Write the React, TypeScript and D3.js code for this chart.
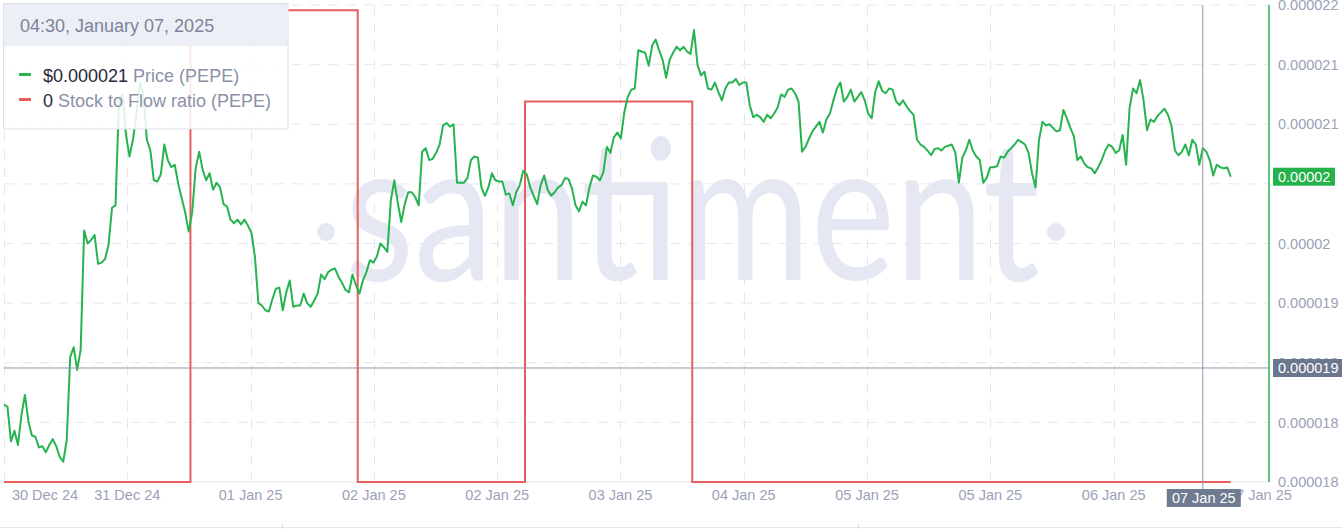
import * as d3 from "d3";

// PEPE price, in millionths of a dollar, one reading every 30 minutes
const priceStart = new Date(2024, 11, 30, 21, 15);
const priceStepMinutes = 30;
const priceMicro = [
  18.65, 18.63, 18.34, 18.43, 18.31, 18.56, 18.73, 18.51, 18.39, 18.38,
  18.29, 18.3, 18.25, 18.31, 18.36, 18.3, 18.21, 18.17, 18.35, 19.05,
  19.13, 18.94, 19.11, 20.11, 20.0, 20.03, 20.07, 19.83, 19.84, 19.87,
  19.99, 20.3, 20.32, 21.2, 21.25, 20.91, 20.73, 20.87, 21.08, 21.35,
  21.25, 20.87, 20.78, 20.53, 20.52, 20.58, 20.83, 20.7, 20.64, 20.66,
  20.5, 20.38, 20.26, 20.1, 20.26, 20.63, 20.77, 20.62, 20.53, 20.59,
  20.45, 20.51, 20.47, 20.33, 20.31, 20.2, 20.17, 20.2, 20.16, 20.2,
  20.15, 20.09, 19.89, 19.5, 19.48, 19.44, 19.43, 19.53, 19.62, 19.63,
  19.44, 19.59, 19.69, 19.47, 19.48, 19.48, 19.58, 19.5, 19.47, 19.52,
  19.58, 19.74, 19.7, 19.76, 19.78, 19.79, 19.72, 19.67, 19.61, 19.59,
  19.74, 19.65, 19.58, 19.69, 19.76, 19.86, 19.84, 19.89, 20.0, 19.97,
  19.93, 20.36, 20.53, 20.34, 20.18, 20.33, 20.43, 20.43, 20.39, 20.32,
  20.77, 20.8, 20.7, 20.71, 20.76, 20.83, 20.99, 21.01, 20.98, 21.0,
  20.51, 20.51, 20.51, 20.55, 20.7, 20.73, 20.72, 20.47, 20.4, 20.47,
  20.59, 20.53, 20.52, 20.52, 20.41, 20.42, 20.32, 20.43, 20.49, 20.61,
  20.58, 20.47, 20.4, 20.33, 20.49, 20.57, 20.45, 20.4, 20.43, 20.47,
  20.49, 20.55, 20.54, 20.46, 20.32, 20.27, 20.35, 20.32, 20.47, 20.57,
  20.56, 20.53, 20.6, 20.81, 20.76, 20.89, 20.93, 20.88, 21.1, 21.23,
  21.29, 21.3, 21.62, 21.61, 21.6, 21.49, 21.66, 21.71, 21.62, 21.54,
  21.39, 21.54, 21.6, 21.65, 21.62, 21.65, 21.61, 21.59, 21.79, 21.5,
  21.41, 21.44, 21.3, 21.29, 21.35, 21.27, 21.2, 21.3, 21.35, 21.35,
  21.38, 21.33, 21.35, 21.35, 21.16, 21.06, 21.08, 21.06, 21.02, 21.08,
  21.05, 21.09, 21.14, 21.25, 21.23, 21.29, 21.3, 21.26, 21.19, 20.77,
  20.81, 20.88, 20.94, 20.98, 21.02, 20.93, 21.04, 21.09, 21.2, 21.3,
  21.35, 21.19, 21.23, 21.29, 21.19, 21.23, 21.27, 21.2, 21.09, 21.05,
  21.27, 21.36, 21.28, 21.26, 21.3, 21.29, 21.19, 21.16, 21.2, 21.15,
  21.11, 21.08, 20.87, 20.83, 20.81, 20.78, 20.74, 20.79, 20.8, 20.78,
  20.81, 20.82, 20.83, 20.76, 20.51, 20.72, 20.78, 20.87, 20.78, 20.73,
  20.7, 20.51, 20.55, 20.64, 20.64, 20.65, 20.73, 20.72, 20.77, 20.8,
  20.83, 20.87, 20.85, 20.83, 20.76, 20.59, 20.47, 20.87, 21.02, 20.99,
  21.0, 20.97, 20.94, 20.95, 21.12, 21.05, 20.97, 20.9, 20.7, 20.73,
  20.67, 20.64, 20.63, 20.59, 20.64, 20.7, 20.78, 20.83, 20.81, 20.76,
  20.78, 20.91, 20.66, 21.14, 21.3, 21.26, 21.37, 21.2, 20.95, 21.04,
  21.02, 21.07, 21.1, 21.13, 21.08, 20.99, 20.78, 20.74, 20.77, 20.83,
  20.74, 20.87, 20.83, 20.66, 20.8, 20.77, 20.7, 20.57, 20.66, 20.64,
  20.63, 20.64, 20.56,
];

// daily stock to flow ratio
const s2fDays = [
  "2024-12-30T00:00", "2024-12-31T00:00", "2025-01-01T00:00", "2025-01-02T00:00",
  "2025-01-03T00:00", "2025-01-04T00:00", "2025-01-05T00:00", "2025-01-06T00:00",
  "2025-01-07T00:00",
];
const s2fValues = [0, 0, 0.62, 0, 0.5, 0, 0, 0, 0];

const xTickTimes = [
  "2024-12-30T21:15", "2024-12-31T14:56", "2025-01-01T08:38", "2025-01-02T02:19",
  "2025-01-02T20:01", "2025-01-03T13:42", "2025-01-04T07:23", "2025-01-05T01:05",
  "2025-01-05T18:46", "2025-01-06T12:28", "2025-01-07T09:27",
];
const yTicks = [18, 18.5, 19, 19.5, 20, 20.5, 21, 21.5, 22];
const yTickLabels = [
  "0.000018", "0.000018", "0.000019", "0.000019", "0.00002",
  "0.00002", "0.000021", "0.000021", "0.000022",
];

// hovered point
const hoverTime = new Date(2025, 0, 7, 1, 15);
const hoverPrice = 18.956;
const hoverPriceLabel = "0.000019";
const lastPriceLabel = "0.00002";
const tooltipTitle = "04:30, January 07, 2025";
const legendRows = [
  { color: "#26b350", value: "$0.000021", label: "Price (PEPE)" },
  { color: "#e85d5d", value: "0", label: "Stock to Flow ratio (PEPE)" },
];

const W = 1342;
const H = 529;
const FONT = "'Liberation Sans', Arial, sans-serif";

export default function App() {
  const x = d3
    .scaleTime()
    .domain([new Date(2024, 11, 30, 21, 15), new Date(2025, 0, 7, 10, 45)])
    .range([4, 1269]);
  const yPrice = d3.scaleLinear().domain([18, 22]).range([482, 5]);
  const yS2f = d3.scaleLinear().domain([0, 0.627]).range([482, 5]);

  const timeAt = (i: number) => d3.timeMinute.offset(priceStart, i * priceStepMinutes);
  const priceEnd = timeAt(priceMicro.length - 1);

  const priceLine = d3
    .line<number>()
    .x((_, i) => x(timeAt(i)))
    .y((d) => yPrice(d));

  const s2fPoints = s2fDays.map((d, i) => {
    const t = new Date(d);
    return { t: t < priceStart ? priceStart : t, v: s2fValues[i] };
  });
  s2fPoints.push({ t: priceEnd, v: s2fValues[s2fValues.length - 1] });
  const s2fLine = d3
    .line<{ t: Date; v: number }>()
    .x((d) => x(d.t))
    .y((d) => yS2f(d.v))
    .curve(d3.curveStepAfter);

  const fmt = d3.timeFormat("%d %b %y");
  const [x0, x1] = x.range();
  const hx = x(hoverTime);
  const hy = yPrice(hoverPrice);
  const lastY = yPrice(priceMicro[priceMicro.length - 1]);

  return (
    <svg
      width={W}
      height={H}
      style={{ position: "absolute", left: 0, top: 0, background: "#fff" }}
      fontFamily={FONT}
    >
      {/* grid */}
      <g stroke="#e5e7ed" strokeWidth={1} strokeDasharray="10 8">
        {yTicks.slice(1).map((v) => (
          <line key={v} x1={x0} x2={x1} y1={yPrice(v)} y2={yPrice(v)} />
        ))}
        {xTickTimes
          .filter((t) => x(new Date(t)) < x1 - 20)
          .map((t) => {
            const px = Math.round(x(new Date(t))) + 0.5;
            return <line key={t} x1={px} x2={px} y1={5} y2={482} />;
          })}
      </g>
      <line x1={x0} x2={x1} y1={482} y2={482} stroke="#e3e5eb" />

      {/* watermark */}
      <g fill="#e5e8f2">
        <circle cx={326} cy={232} r={9} />
        <circle cx={1056} cy={232} r={9} />
        <text
          x={345}
          y={280}
          fontSize={196}
          fontFamily="Lato, 'Open Sans', sans-serif"
          fontWeight={400}
          textLength={695}
          lengthAdjust="spacingAndGlyphs"
        >
          santiment
        </text>
      </g>

      {/* series */}
      <path d={s2fLine(s2fPoints) ?? ""} fill="none" stroke="#e85d5d" strokeWidth={2} />
      <path
        d={priceLine(priceMicro) ?? ""}
        fill="none"
        stroke="#26b350"
        strokeWidth={2}
        strokeLinejoin="round"
      />

      {/* crosshair */}
      <line x1={x0} x2={x1} y1={hy} y2={hy} stroke="#8f96ae" strokeWidth={1} />
      <line x1={hx} x2={hx} y1={5} y2={489} stroke="#8f96ae" strokeWidth={1} />

      {/* right axis; labels under the last-price badge are hidden */}
      <line x1={1269} x2={1269} y1={5} y2={482} stroke="#62c37e" strokeWidth={2} />
      <g fontSize={14.5} fill="#9ba2b5">
        {yTicks.map((v, i) =>
          Math.abs(yPrice(v) - lastY) < 12 ? null : (
            <text key={v} x={1278} y={yPrice(v)} dy="0.36em">
              {yTickLabels[i]}
            </text>
          )
        )}
      </g>

      {/* bottom axis */}
      <g fontSize={14.5} fill="#9ba2b5" textAnchor="middle">
        {xTickTimes.map((t) => {
          const px = Math.max(x(new Date(t)), 45);
          return (
            <text key={t} x={px} y={500}>
              {fmt(new Date(t))}
            </text>
          );
        })}
      </g>

      {/* value badges */}
      <rect x={1273} y={lastY - 9} width={62} height={18} fill="#24b24b" />
      <text x={1278} y={lastY} dy="0.36em" fontSize={14.5} fill="#fff">
        {lastPriceLabel}
      </text>
      <rect x={1273} y={hy - 9} width={69} height={18} fill="#6b778d" />
      <text x={1278} y={hy} dy="0.36em" fontSize={14.5} fill="#fff">
        {hoverPriceLabel}
      </text>
      <rect x={hx - 36} y={489} width={74} height={18} fill="#6f7b91" />
      <text x={hx + 1} y={498} dy="0.36em" fontSize={14.5} fill="#fff" textAnchor="middle">
        {fmt(hoverTime)}
      </text>

      {/* tooltip */}
      <g>
        <rect
          x={3.5}
          y={3.5}
          width={284.5}
          height={125.5}
          fill="#fff"
          fillOpacity={0.86}
          stroke="#dcdfe8"
        />
        <rect x={4} y={4} width={284} height={42} fill="#eceef6" fillOpacity={0.94} />
        <text x={20} y={31.5} fontSize={18} fill="#7d8398">
          {tooltipTitle}
        </text>
        {legendRows.map((r, i) => {
          const base = 81.5 + i * 25;
          return (
            <g key={r.label}>
              <line x1={19} x2={31} y1={base - 7} y2={base - 7} stroke={r.color} strokeWidth={3} />
              <text x={43} y={base} fontSize={18}>
                <tspan fill="#272a36">{r.value}</tspan>
                <tspan fill="#8a91a6"> {r.label}</tspan>
              </text>
            </g>
          );
        })}
      </g>

      {/* panel footer */}
      <line x1={0} x2={W} y1={527.5} y2={527.5} stroke="#e4e6eb" />
      <line x1={282.5} x2={282.5} y1={524} y2={529} stroke="#d8dbe2" />
      <line x1={858.5} x2={858.5} y1={524} y2={529} stroke="#d8dbe2" />
    </svg>
  );
}
